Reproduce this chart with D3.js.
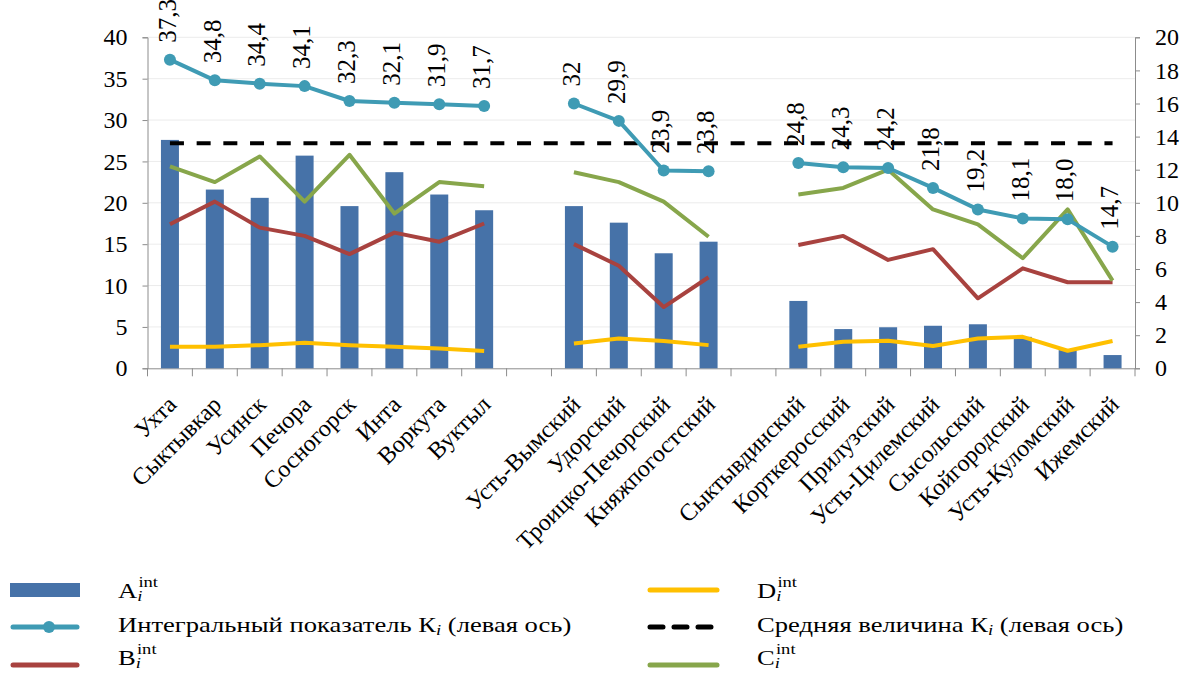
<!DOCTYPE html>
<html lang="ru">
<head>
<meta charset="UTF-8"/>
<title>Интегральный показатель</title>
<script src="https://d3js.org/d3.v7.min.js"></script>
<style>
    body { margin: 0; background: #fff; }
    text { font-family: "Liberation Serif", "DejaVu Serif", "Times New Roman", Times, serif; fill: #000; }
</style>
</head>
<body>
<svg id="chart" width="1181" height="673"></svg>
<script>
    var FONT = '"Liberation Serif", "DejaVu Serif", "Times New Roman", Times, serif';

    // three groups of districts, separated by an empty slot
    var group1 = ["Ухта", "Сыктывкар", "Усинск", "Печора", "Сосногорск", "Инта", "Воркута", "Вуктыл"];
    var group2 = ["Усть-Вымский", "Удорский", "Троицко-Печорский", "Княжпогостский"];
    var group3 = ["Сыктывдинский", "Корткеросский", "Прилузский", "Усть-Цилемский", "Сысольский",
        "Койгородский", "Усть-Куломский", "Ижемский"];

    // left axis
    var K = [37.3, 34.8, 34.4, 34.1, 32.3, 32.1, 31.9, 31.7, 32, 29.9, 23.9, 23.8,
        24.8, 24.3, 24.2, 21.8, 19.2, 18.1, 18.0, 14.7];
    var kLabels = ["37,3", "34,8", "34,4", "34,1", "32,3", "32,1", "31,9", "31,7", "32", "29,9", "23,9", "23,8",
        "24,8", "24,3", "24,2", "21,8", "19,2", "18,1", "18,0", "14,7"];
    var meanK = 27.2;

    // right axis
    var A = [13.8, 10.8, 10.3, 12.85, 9.8, 11.85, 10.5, 9.55, 9.8, 8.8, 6.95, 7.65,
        4.07, 2.37, 2.48, 2.57, 2.66, 1.9, 1.1, 0.8];
    var B = [8.7, 10.07, 8.5, 8.0, 6.9, 8.2, 7.65, 8.75, 7.5, 6.2, 3.7, 5.5,
        7.45, 8.0, 6.55, 7.2, 4.23, 6.04, 5.2, 5.2];
    var C = [12.2, 11.25, 12.8, 10.07, 12.9, 9.35, 11.25, 11.0, 11.85, 11.25, 10.07, 7.95,
        10.5, 10.9, 12.0, 9.6, 8.7, 6.65, 9.6, 5.3];
    var D = [1.3, 1.3, 1.4, 1.55, 1.4, 1.3, 1.2, 1.05, 1.5, 1.8, 1.65, 1.4,
        1.3, 1.6, 1.67, 1.35, 1.8, 1.9, 1.06, 1.65];

    var leftTicks = [0, 5, 10, 15, 20, 25, 30, 35, 40];
    var rightTicks = [0, 2, 4, 6, 8, 10, 12, 14, 16, 18, 20];

    var blue = "#4672a8", teal = "#3f9bb4", red = "#a8423f", green = "#87a64b", yellow = "#ffc000";

    var svg = d3.select("#chart");

    // slots: group1, gap, group2, gap, group3
    var groups = [group1, group2, group3];
    var slots = [];
    var rows = [];
    var idx = 0;
    groups.forEach(function (g, gi) {
        if (gi > 0) slots.push("gap" + gi);
        g.forEach(function (name) {
            slots.push(name);
            rows.push({name: name, group: gi, A: A[idx], B: B[idx], C: C[idx], D: D[idx], K: K[idx], label: kLabels[idx]});
            idx++;
        });
    });

    var x = d3.scaleBand().domain(slots).range([147.5, 1135]);
    var yL = d3.scaleLinear().domain([0, 40]).range([368.3, 37.3]);
    var yR = d3.scaleLinear().domain([0, 20]).range([368.3, 37.3]);
    var cx = function (d) { return x(d.name) + x.bandwidth() / 2; };

    // grid
    svg.append("g").selectAll("line")
        .data(leftTicks.slice(1))
        .enter().append("line")
        .attr("x1", 147.5).attr("x2", 1135)
        .attr("y1", function (d) { return yL(d); })
        .attr("y2", function (d) { return yL(d); })
        .style("stroke", "#ececec").style("stroke-width", 1);

    // axes
    var axisL = svg.append("g").attr("transform", "translate(147.5,0)")
        .call(d3.axisLeft(yL).tickValues(leftTicks).tickSize(5).tickPadding(15));
    var axisR = svg.append("g").attr("transform", "translate(1135,0)")
        .call(d3.axisRight(yR).tickValues(rightTicks).tickSize(5).tickPadding(15));
    var axisX = svg.append("g").attr("transform", "translate(0,368.3)")
        .call(d3.axisBottom(x).tickValues(slots).tickSize(0).tickFormat(""));
    axisX.append("g").selectAll("line")
        .data(slots.concat(["end"]))
        .enter().append("line")
        .attr("x1", function (d, i) { return 147.5 + i * x.bandwidth(); })
        .attr("x2", function (d, i) { return 147.5 + i * x.bandwidth(); })
        .attr("y1", 0).attr("y2", 8)
        .style("stroke", "#8c8c8c");
    [axisL, axisR, axisX].forEach(function (a) {
        a.attr("font-family", null);
        a.select(".domain").style("stroke", "#8c8c8c");
        a.selectAll(".tick line").style("stroke", "#8c8c8c");
        a.selectAll("text").style("font-size", "24px")
            .style("font-family", FONT).style("fill", "#000");
    });

    // bars
    var barW = 18;
    svg.append("g").selectAll("rect")
        .data(rows)
        .enter().append("rect")
        .attr("x", function (d) { return cx(d) - barW / 2; })
        .attr("y", function (d) { return yR(d.A); })
        .attr("width", barW)
        .attr("height", function (d) { return yR(0) - yR(d.A); })
        .style("fill", blue);

    // lines, broken between groups
    function drawLine(key, scale, color) {
        var line = d3.line()
            .x(cx)
            .y(function (d) { return scale(d[key]); });
        groups.forEach(function (g, gi) {
            svg.append("path")
                .datum(rows.filter(function (d) { return d.group === gi; }))
                .attr("d", line)
                .style("fill", "none")
                .style("stroke", color)
                .style("stroke-width", 4)
                .style("stroke-linejoin", "round");
        });
    }
    drawLine("D", yR, yellow);
    drawLine("B", yR, red);
    drawLine("C", yR, green);

    // mean K dashed
    svg.append("line")
        .attr("x1", cx(rows[0])).attr("x2", cx(rows[rows.length - 1]))
        .attr("y1", yL(meanK)).attr("y2", yL(meanK))
        .style("stroke", "#000").style("stroke-width", 4)
        .style("stroke-dasharray", "14,12.7");

    drawLine("K", yL, teal);
    svg.append("g").selectAll("circle")
        .data(rows)
        .enter().append("circle")
        .attr("cx", cx)
        .attr("cy", function (d) { return yL(d.K); })
        .attr("r", 6)
        .style("fill", teal);

    // value labels
    svg.append("g").selectAll("text")
        .data(rows)
        .enter().append("text")
        .attr("transform", function (d) {
            return "translate(" + (cx(d) - 3) + "," + (yL(d.K) - 17) + ") rotate(-90)";
        })
        .attr("dy", "0.35em")
        .style("font-size", "25px")
        .style("font-family", FONT)
        .text(function (d) { return d.label; });

    // category labels
    svg.append("g").selectAll("text")
        .data(rows)
        .enter().append("text")
        .attr("transform", function (d) {
            return "translate(" + (cx(d) - 4) + "," + 394 + ") rotate(-45)";
        })
        .attr("text-anchor", "end")
        .attr("dy", "0.7em")
        .style("font-size", "24px")
        .style("font-family", FONT)
        .text(function (d) { return d.name; });

    // legend (text in the picture is stretched sideways)
    var legend = svg.append("g");
    var items = [
        {col: 0, row: 0, type: "bar", color: blue, base: "A", sup: "int"},
        {col: 0, row: 1, type: "marker", color: teal, base: "Интегральный показатель К", rest: " (левая ось)"},
        {col: 0, row: 2, type: "line", color: red, base: "B", sup: "int"},
        {col: 1, row: 0, type: "line", color: yellow, base: "D", sup: "int"},
        {col: 1, row: 1, type: "dash", color: "#000", base: "Средняя величина К", rest: " (левая ось)"},
        {col: 1, row: 2, type: "line", color: green, base: "C", sup: "int"}
    ];
    var colX = [[10, 80, 118], [647, 720, 757]];
    var symY = [590, 627, 665];
    var textY = [598, 632, 665];
    items.forEach(function (it) {
        var x0 = colX[it.col][0], x1 = colX[it.col][1], tx = colX[it.col][2], y0 = symY[it.row];
        if (it.type === "bar") {
            legend.append("rect").attr("x", x0).attr("y", y0 - 7).attr("width", x1 - x0).attr("height", 14)
                .style("fill", it.color);
        } else {
            legend.append("line").attr("x1", x0 + 3).attr("x2", x1 - 3).attr("y1", y0).attr("y2", y0)
                .style("stroke", it.color).style("stroke-width", 5).style("stroke-linecap", "round")
                .style("stroke-dasharray", it.type === "dash" ? "13,11" : null);
            if (it.type === "marker") {
                legend.append("circle").attr("cx", (x0 + x1) / 2 + 4).attr("cy", y0).attr("r", 6)
                    .style("fill", it.color);
            }
        }
        var t = legend.append("text")
            .attr("transform", "translate(" + tx + "," + textY[it.row] + ") scale(1.33,1)")
            .style("font-size", "20px").style("font-family", FONT);
        t.append("tspan").text(it.base);
        t.append("tspan").attr("dy", 3).style("font-size", "14px").style("font-style", "italic").text("i");
        if (it.sup) {
            t.append("tspan").attr("dx", -3).attr("dy", -14.5).style("font-size", "14px").text(it.sup);
        } else {
            t.append("tspan").attr("dy", -3).text(it.rest);
        }
    });
</script>
</body>
</html>
